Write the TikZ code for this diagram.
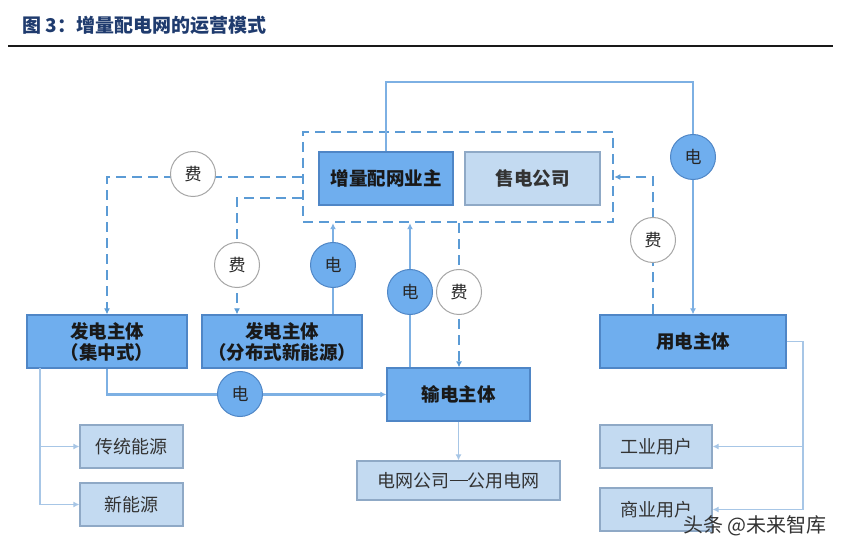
\documentclass[tikz,border=0pt]{standalone}
\usepackage{fontspec}
\newfontfamily\cjk{Noto Sans CJK SC}
\usetikzlibrary{arrows.meta,calc}
\definecolor{mainfill}{HTML}{6FAEEE}
\definecolor{mainedge}{HTML}{4F86C6}
\definecolor{lightfill}{HTML}{C3DAF1}
\definecolor{lightedge}{HTML}{8FA9C6}
\definecolor{dashblue}{HTML}{5B9BD5}
\definecolor{solblue}{HTML}{7DB0E3}
\definecolor{thinblue}{HTML}{A7C6E6}
\definecolor{titleblue}{HTML}{1F3B6E}
\tikzset{
  mainbox/.style={draw=mainedge,fill=mainfill,line width=1.2pt,inner sep=0pt,align=center,
    font=\cjk\bfseries\fontsize{18.5}{21}\selectfont,text=black!90},
  lightbox/.style={draw=lightedge,fill=lightfill,line width=1.2pt,inner sep=0pt,align=center,
    font=\cjk\fontsize{18}{20}\selectfont,text=black!80},
  dashbox/.style={draw=dashblue,dash pattern=on 10pt off 6pt,line width=2.5pt,inner sep=0pt},
  dsh/.style={draw=dashblue,dash pattern=on 10pt off 6pt,line width=2.5pt},
  sol/.style={draw=solblue,line width=2.2pt},
  thin/.style={draw=thinblue,line width=1.6pt},
  tip/.style={-{Latex[length=6pt,width=6pt]}},
  ecirc/.style={circle,draw=mainedge,fill=mainfill,line width=1pt,minimum size=45pt,inner sep=0pt,
    font=\cjk\fontsize{17}{19}\selectfont,text=black!85},
  fcirc/.style={circle,draw=black!35,fill=white,line width=1pt,minimum size=45pt,inner sep=0pt,
    font=\cjk\fontsize{17}{19}\selectfont,text=black!85}
}
\begin{document}
\begin{tikzpicture}[x=1pt,y=-1pt]
\useasboundingbox[fill=white] (0,0) rectangle (854,553);
% title
\node[anchor=west,font=\cjk\bfseries\fontsize{19}{21}\selectfont,text=titleblue,inner sep=0pt] (title) at (22,25) {图 3：增量配电网的运营模式};
\coordinate (tl) at (8,46);
\coordinate (tr) at (833,46);
\draw[line width=2.4pt,black!90] (tl) -- (tr);
% boxes
\node[dashbox,minimum width=310pt,minimum height=90pt] (cont) at (458,177) {};
\node[mainbox,minimum width=134pt,minimum height=53pt] (owner) at (386,178.5) {增量配网业主};
\node[lightbox,font=\cjk\bfseries\fontsize{18.5}{21}\selectfont,minimum width=135pt,minimum height=53pt] (sale) at (532.5,178.5) {售电公司};
\node[mainbox,minimum width=160pt,minimum height=53pt] (genc) at (107,341.5) {发电主体\\（集中式）};
\node[mainbox,minimum width=160pt,minimum height=53pt] (gend) at (282,341.5) {发电主体\\（分布式新能源）};
\node[mainbox,minimum width=143pt,minimum height=53pt] (trans) at (458.5,394.5) {输电主体};
\node[mainbox,minimum width=186pt,minimum height=53pt] (user) at (693,341.5) {用电主体};
\node[lightbox,minimum width=103pt,minimum height=43pt] (trad) at (131.5,446.5) {传统能源};
\node[lightbox,minimum width=103pt,minimum height=43pt] (newe) at (131.5,504.5) {新能源};
\node[lightbox,minimum width=203pt,minimum height=39pt] (grid) at (458.5,480.5) {电网公司\rule[0.33em]{1em}{0.06em}公用电网};
\node[lightbox,minimum width=112pt,minimum height=43pt] (ind) at (656,446.5) {工业用户};
\node[lightbox,minimum width=112pt,minimum height=43pt] (com) at (656,509.5) {商业用户};
% helper coordinates
\coordinate (top) at (0,82);
\coordinate (c2) at (237,198);
\coordinate (e2p) at (333,265);
\coordinate (e3p) at (410,292);
\coordinate (f3p) at (459,292);
\coordinate (f4p) at (653,240);
\coordinate (lb) at (40,368);
\coordinate (rb) at (803,0);
% connectors
\draw[sol,tip] (owner.north) -- (owner.north |- top) -| (user.north);
\draw[dsh,tip] (cont.west) -| (genc.north);
\draw[dsh,tip] (cont.west |- c2) -- (c2) -- (c2 |- gend.north);
\draw[sol,tip] (gend.north -| e2p) -- (cont.south -| e2p);
\draw[sol,tip] (trans.north -| e3p) -- (cont.south -| e3p);
\draw[dsh,tip] (cont.south -| f3p) -- (trans.north -| f3p);
\draw[dsh,tip] (user.north -| f4p) |- (cont.east);
\draw[sol,tip] (genc.south) |- (trans.west);
\draw[thin,tip] (lb) |- (newe.west);
\draw[thin,tip] (lb |- trad.west) -- (trad.west);
\draw[thin,tip] (trans.south) -- (grid.north);
\draw[thin,tip] (user.east) -| (rb |- com.east) -- (com.east);
\draw[thin,tip] (rb |- ind.east) -- (ind.east);
% circles
\node[ecirc] (e1) at (user.north |- 0,157) {电};
\node[fcirc] (f1) at (193,174) {费};
\node[fcirc] (f2) at (c2 |- 0,265) {费};
\node[ecirc] (e2) at (e2p) {电};
\node[ecirc] (e3) at (e3p) {电};
\node[fcirc] (f3) at (f3p) {费};
\node[fcirc] (f4) at (f4p) {费};
\node[ecirc] (e4) at (240,394) {电};
% watermark
\node[anchor=west,font=\cjk\fontsize{20}{22}\selectfont,text=black!80,inner sep=0pt] (wm) at (683,526) {头条 @未来智库};
\end{tikzpicture}
\end{document}
